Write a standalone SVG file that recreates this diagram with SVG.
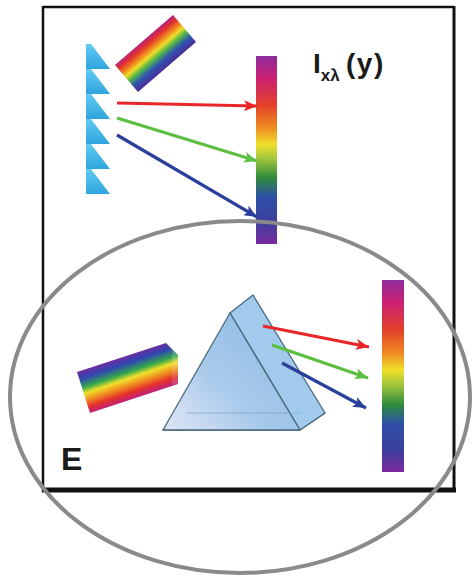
<svg xmlns="http://www.w3.org/2000/svg" width="472" height="577" viewBox="0 0 472 577">
  <style>
    .ray { fill: none; stroke-width: 3.2; stroke-linecap: butt; }
    .red { stroke: #e8262a; }
    .green { stroke: #5cbf41; }
    .blue { stroke: #2b3f9c; }
    .edge { stroke: #48697e; stroke-width: 1.3; stroke-linejoin: round; }
    .label { font-family: "Liberation Sans", Arial, sans-serif; font-weight: bold; fill: #1a1a1a; }
  </style>
  <defs>
    <!-- screen spectrum, violet at both ends -->
    <linearGradient id="spectrum" x1="0" y1="0" x2="0" y2="1">
      <stop offset="0" stop-color="#8e2a9e"/>
      <stop offset="0.12" stop-color="#cc2272"/>
      <stop offset="0.26" stop-color="#e4402a"/>
      <stop offset="0.38" stop-color="#ee8a22"/>
      <stop offset="0.47" stop-color="#efe02a"/>
      <stop offset="0.55" stop-color="#9cc43c"/>
      <stop offset="0.65" stop-color="#2e8a3c"/>
      <stop offset="0.75" stop-color="#2f50a8"/>
      <stop offset="0.88" stop-color="#3c3f9c"/>
      <stop offset="1" stop-color="#7a2aa0"/>
    </linearGradient>
    <!-- white-light beam stripes -->
    <linearGradient id="beamTop" gradientUnits="userSpaceOnUse" x1="144" y1="40" x2="167" y2="67">
      <stop offset="0" stop-color="#b8227e"/>
      <stop offset="0.15" stop-color="#e3302c"/>
      <stop offset="0.32" stop-color="#f08a20"/>
      <stop offset="0.45" stop-color="#f2dc2a"/>
      <stop offset="0.6" stop-color="#54b845"/>
      <stop offset="0.78" stop-color="#2f56b0"/>
      <stop offset="1" stop-color="#4a2c98"/>
    </linearGradient>
    <linearGradient id="beamBottom" gradientUnits="userSpaceOnUse" x1="122" y1="357" x2="136" y2="398">
      <stop offset="0" stop-color="#6a2ca0"/>
      <stop offset="0.18" stop-color="#2f48b0"/>
      <stop offset="0.38" stop-color="#34a84a"/>
      <stop offset="0.52" stop-color="#f0e02c"/>
      <stop offset="0.68" stop-color="#f08a20"/>
      <stop offset="0.84" stop-color="#e3302c"/>
      <stop offset="1" stop-color="#c0207e"/>
    </linearGradient>
    <linearGradient id="toothFill" x1="0" y1="0" x2="0" y2="1">
      <stop offset="0" stop-color="#62ccf2"/>
      <stop offset="1" stop-color="#2ea4de"/>
    </linearGradient>
    <linearGradient id="prismFront" gradientUnits="userSpaceOnUse" x1="175" y1="425" x2="265" y2="330">
      <stop offset="0" stop-color="#d8e2f4"/>
      <stop offset="0.45" stop-color="#a6c8ea"/>
      <stop offset="1" stop-color="#8dbbe4"/>
    </linearGradient>
    <path id="tooth" d="M0,0 L5,0 L24,25 L0,25 Z" fill="url(#toothFill)"/>
    <marker id="headRed" markerUnits="userSpaceOnUse" markerWidth="13" markerHeight="11" refX="13" refY="5.5" orient="auto">
      <path d="M0,0 L13,5.5 L0,11 L3,5.5 Z" fill="#e8262a"/>
    </marker>
    <marker id="headGreen" markerUnits="userSpaceOnUse" markerWidth="13" markerHeight="11" refX="13" refY="5.5" orient="auto">
      <path d="M0,0 L13,5.5 L0,11 L3,5.5 Z" fill="#5cbf41"/>
    </marker>
    <marker id="headBlue" markerUnits="userSpaceOnUse" markerWidth="13" markerHeight="11" refX="13" refY="5.5" orient="auto">
      <path d="M0,0 L13,5.5 L0,11 L3,5.5 Z" fill="#2b3f9c"/>
    </marker>
  </defs>

  <rect width="472" height="577" fill="#ffffff"/>

  <!-- panel frame -->
  <g id="frame" stroke="#111111" fill="none">
    <line x1="43" y1="7" x2="454" y2="7" stroke-width="2.5"/>
    <line x1="43" y1="6" x2="43" y2="492" stroke-width="2.5"/>
    <line x1="454" y1="6" x2="454" y2="492" stroke-width="3"/>
    <line x1="42" y1="490" x2="456" y2="490" stroke-width="5"/>
  </g>

  <!-- upper setup: reflective grating -->
  <g id="grating">
    <use href="#tooth" x="86" y="44"/>
    <use href="#tooth" x="86" y="69"/>
    <use href="#tooth" x="86" y="94"/>
    <use href="#tooth" x="86" y="119"/>
    <use href="#tooth" x="86" y="144"/>
    <use href="#tooth" x="86" y="169"/>
  </g>

  <g id="beam-top">
    <polygon points="115,65 173,15 196,42 138,92" fill="url(#beamTop)"/>
  </g>

  <g id="screen-top">
    <rect x="256" y="56" width="21" height="188" fill="url(#spectrum)"/>
  </g>

  <g id="label-intensity">
    <text class="label" x="313" y="73" font-size="28">I<tspan font-size="17" dy="8">xλ</tspan><tspan x="346" dy="-8" letter-spacing="1.5">(y)</tspan></text>
  </g>

  <!-- lower setup: dispersing prism -->
  <g id="beam-bottom">
    <polygon points="77,372 166,343 178,355 178,384 90,413" fill="url(#beamBottom)"/>
    <polygon points="166,343 178,355 178,384 172,385 172,350" fill="#ffffff" opacity="0.15"/>
  </g>

  <g id="prism">
    <!-- base face -->
    <polygon class="edge" points="163,430 300,430 325,413 187,413" fill="#b6dce8" fill-opacity="0.9"/>
    <!-- hidden back edge -->
    <line x1="253" y1="295" x2="187" y2="413" stroke="#7fa6c0" stroke-width="0.8" opacity="0.5"/>
    <!-- exit face -->
    <polygon class="edge" points="230,313 253,295 325,413 300,430" fill="#a2caec"/>
    <!-- entrance face -->
    <polygon class="edge" points="230,313 163,430 300,430" fill="url(#prismFront)" fill-opacity="0.95"/>
    <line x1="187" y1="413" x2="300" y2="413" stroke="#7fa6c0" stroke-width="0.8" opacity="0.7"/>
  </g>

  <g id="screen-bottom">
    <rect x="382" y="280" width="22" height="192" fill="url(#spectrum)"/>
  </g>

  <g id="label-panel">
    <text class="label" x="61" y="470" font-size="32">E</text>
  </g>

  <!-- dispersed rays -->
  <g id="connectors">
    <line class="ray red" x1="117" y1="103" x2="257" y2="106" marker-end="url(#headRed)"/>
    <line class="ray green" x1="117" y1="118" x2="257" y2="161" marker-end="url(#headGreen)"/>
    <line class="ray blue" x1="117" y1="135" x2="257" y2="217" marker-end="url(#headBlue)"/>
    <line class="ray red" x1="263" y1="326" x2="369" y2="347" marker-end="url(#headRed)"/>
    <line class="ray green" x1="272" y1="345" x2="368" y2="378" marker-end="url(#headGreen)"/>
    <line class="ray blue" x1="282" y1="363" x2="366" y2="408" marker-end="url(#headBlue)"/>
  </g>

  <!-- highlight ring -->
  <g id="highlight">
    <ellipse cx="240" cy="397" rx="230" ry="176" fill="none" stroke="#8a8a8a" stroke-width="4"/>
  </g>
</svg>
